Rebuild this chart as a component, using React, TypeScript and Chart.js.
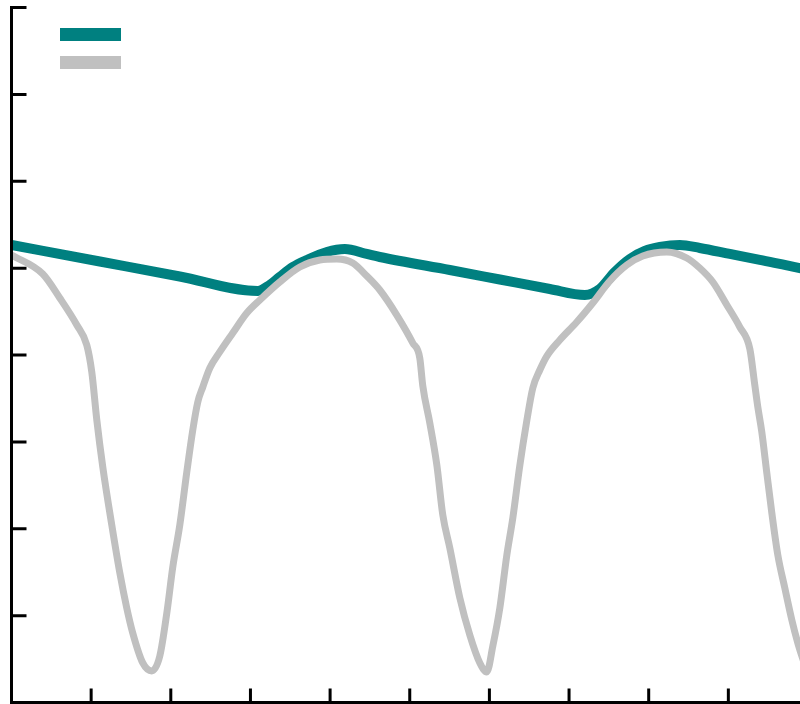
import React, { useEffect, useRef } from "react";
import { Chart, registerables } from "chart.js";

Chart.register(...registerables);

// Teal series (upper, sawtooth-like)
const tealX = [0, 1.109, 2.113, 3.092, 3.243, 3.368, 3.532, 3.708, 3.959, 4.185, 4.461, 4.624, 5.503, 6.131, 6.759, 7.198, 7.386, 7.575, 7.763, 7.951, 8.14, 8.391, 8.641, 9.018, 9.395, 9.897, 10];
const tealY = [5.266, 5.076, 4.904, 4.737, 4.806, 4.898, 5.013, 5.094, 5.186, 5.22, 5.163, 5.128, 4.978, 4.869, 4.76, 4.691, 4.76, 4.955, 5.105, 5.197, 5.243, 5.266, 5.232, 5.163, 5.094, 5.001, 4.984];

// Gray series (deep dips)
const grayX = [0, 0.393, 0.606, 0.82, 0.945, 1.008, 1.071, 1.146, 1.259, 1.36, 1.447, 1.522, 1.648, 1.761, 1.862, 1.95, 2.025, 2.113, 2.201, 2.276, 2.339, 2.402, 2.49, 2.615, 2.778, 2.954, 3.118, 3.368, 3.62, 3.871, 4.084, 4.285, 4.461, 4.624, 4.837, 5.038, 5.126, 5.164, 5.252, 5.34, 5.415, 5.503, 5.629, 5.754, 5.88, 5.967, 6.043, 6.131, 6.219, 6.294, 6.381, 6.469, 6.545, 6.633, 6.721, 6.884, 7.097, 7.298, 7.512, 7.725, 7.926, 8.227, 8.478, 8.641, 8.805, 8.981, 9.144, 9.27, 9.332, 9.37, 9.42, 9.483, 9.546, 9.621, 9.709, 9.797, 9.872, 9.96];
const grayY = [5.151, 4.932, 4.656, 4.345, 4.115, 3.804, 3.252, 2.711, 2.043, 1.491, 1.088, 0.8, 0.455, 0.363, 0.535, 1.03, 1.56, 2.043, 2.653, 3.137, 3.459, 3.632, 3.85, 4.035, 4.253, 4.483, 4.633, 4.84, 5.013, 5.094, 5.105, 5.059, 4.909, 4.748, 4.46, 4.138, 3.965, 3.643, 3.217, 2.734, 2.158, 1.778, 1.203, 0.777, 0.455, 0.351, 0.65, 1.088, 1.698, 2.124, 2.722, 3.24, 3.62, 3.827, 3.988, 4.173, 4.38, 4.599, 4.852, 5.036, 5.14, 5.186, 5.117, 5.001, 4.84, 4.576, 4.322, 4.069, 3.655, 3.401, 3.114, 2.642, 2.181, 1.698, 1.318, 0.95, 0.685, 0.43];

const xTicks = [1, 2, 3, 4, 5, 6, 7, 8, 9];
const yTicks = [1, 2, 3, 4, 5, 6, 7, 8];

const TEAL = "#008080";
const GRAY = "#c0c0c0";

const axesPlugin = {
  id: "axesPlugin",
  afterDraw(chart: any) {
    const { ctx, chartArea, scales } = chart;
    const { left, top, right, bottom } = chartArea;
    ctx.save();
    // legend swatches
    ctx.fillStyle = TEAL;
    ctx.fillRect(left + 48.5, top + 20.5, 61, 13);
    ctx.fillStyle = GRAY;
    ctx.fillRect(left + 48.5, top + 48.5, 61, 13);
    // axes
    ctx.strokeStyle = "#000";
    ctx.lineWidth = 3;
    ctx.lineCap = "butt";
    ctx.beginPath();
    ctx.moveTo(left, top - 1.5);
    ctx.lineTo(left, bottom + 1.5);
    ctx.moveTo(left - 1.5, bottom);
    ctx.lineTo(right + 2, bottom);
    for (const v of yTicks) {
      const py = scales.y.getPixelForValue(v);
      ctx.moveTo(left, py);
      ctx.lineTo(left + 15, py);
    }
    for (const v of xTicks) {
      const px = scales.x.getPixelForValue(v);
      ctx.moveTo(px, bottom);
      ctx.lineTo(px, bottom - 14);
    }
    ctx.stroke();
    ctx.restore();
  },
};

export default function App() {
  const ref = useRef<HTMLCanvasElement>(null);
  useEffect(() => {
    if (!ref.current) return;
    const chart = new Chart(ref.current, {
      type: "line",
      data: {
        datasets: [
          {
            label: "",
            data: tealX.map((x, i) => ({ x, y: tealY[i] })),
            borderColor: TEAL,
            borderWidth: 10,
            pointRadius: 0,
            cubicInterpolationMode: "monotone",
            fill: false,
            order: 1,
          },
          {
            label: "",
            data: grayX.map((x, i) => ({ x, y: grayY[i] })),
            borderColor: GRAY,
            borderWidth: 7,
            pointRadius: 0,
            cubicInterpolationMode: "monotone",
            fill: false,
            order: 0,
          },
        ],
      },
      options: {
        responsive: false,
        animation: false,
        devicePixelRatio: 1,
        layout: { padding: { left: 11.5, top: 7.5, right: 2, bottom: 1.5 } },
        plugins: { legend: { display: false }, tooltip: { enabled: false }, title: { display: false } },
        scales: {
          x: { type: "linear", min: 0, max: 10, display: false },
          y: { type: "linear", min: 0, max: 8, display: false },
        },
      },
      plugins: [axesPlugin],
    });
    return () => chart.destroy();
  }, []);
  return (
    <div style={{ position: "absolute", left: 0, top: 0, width: 800, height: 704, overflow: "hidden", background: "#fff" }}>
      <canvas ref={ref} width={810} height={704} style={{ display: "block" }} />
    </div>
  );
}
